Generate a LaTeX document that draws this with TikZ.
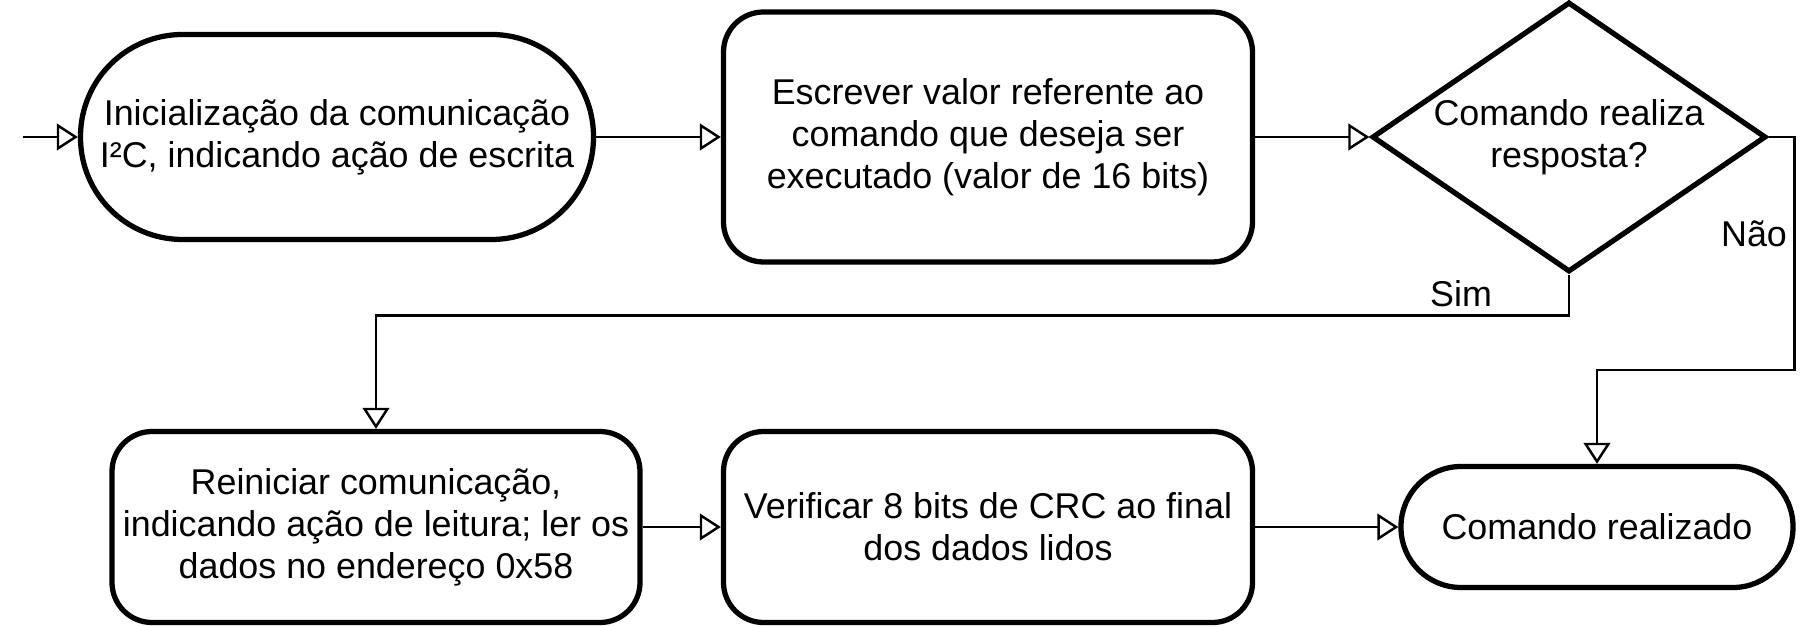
\documentclass[tikz,border=0pt]{standalone}
\usepackage{fontspec}
\setmainfont{Liberation Sans}
\usetikzlibrary{arrows.meta,shapes.geometric}
\tikzset{
	box/.style={draw, line width=1.5pt, rounded corners=0.4cm, align=center, inner sep=0pt},
	term/.style={draw, line width=1.5pt, rounded corners=#1, align=center, inner sep=0pt},
	cond/.style={draw, diamond, aspect=1.46, line width=1.5pt, align=center, inner sep=0pt},
	arr/.style={line width=0.7pt, -{Triangle[open,length=6pt,width=7.6pt]}},
	lbl/.style={inner sep=0pt}
}

\begin{document}
\begin{tikzpicture}[font=\fontsize{10.2pt}{11.9pt}\selectfont]
				\useasboundingbox[fill=white] (0,0) rectangle (18.18,-6.27);
				
				\coordinate (entry) at (0.23,-1.37);
				\node[term=1.02cm, minimum width=5.13cm, minimum height=2.05cm] (ini) at (3.37,-1.37) {Inicialização da comunicação\\I²C, indicando ação de escrita};
				\node[box, minimum width=5.29cm, minimum height=2.50cm] (esc) at (9.88,-1.37) {Escrever valor referente ao\\comando que deseja ser\\executado (valor de 16 bits)};
				\node[cond, minimum width=3.94cm, minimum height=2.70cm] (dec) at (15.69,-1.37) {Comando realiza\\resposta?};
				
				\node[box, minimum width=5.28cm, minimum height=1.91cm] (rei) at (3.76,-5.27) {Reiniciar comunicação,\\indicando ação de leitura; ler os\\dados no endereço 0x58};
				\node[box, minimum width=5.29cm, minimum height=1.91cm] (ver) at (9.88,-5.27) {Verificar 8 bits de CRC ao final\\dos dados lidos};
				\node[term=0.6cm, minimum width=3.92cm, minimum height=1.21cm] (fim) at (15.97,-5.27) {Comando realizado};
				
				\draw[arr] (entry) -- (ini);
				\draw[arr] (ini) -- (esc);
				\draw[arr] (esc) -- (dec);
				\draw[arr] (dec.south) -- ++(0,-0.41) -| (rei.north);
				\draw[arr] (dec.east) -| ++(0.26,-2.33) -| (fim.north);
				\draw[arr] (rei) -- (ver);
				\draw[arr] (ver) -- (fim);
				
				\node[lbl] (sim) at (14.61,-2.94) {Sim};
				\node[lbl] (nao) at (17.54,-2.34) {Não};
			\end{tikzpicture}
\end{document}
